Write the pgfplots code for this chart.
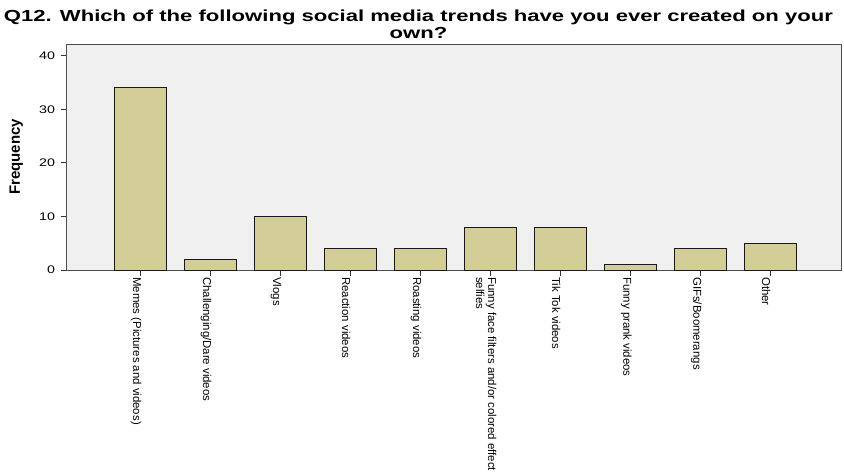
\documentclass[border=0pt]{standalone}
\usepackage{pgfplots}
\pgfplotsset{compat=1.18}
\usepackage{fontspec}
\setmainfont{Liberation Sans}
\newfontfamily\titlefont[FakeStretch=1.38]{Liberation Sans}
\newfontfamily\tickfont[FakeStretch=1.3]{Liberation Sans}
\definecolor{barfill}{RGB}{211,206,151}
\definecolor{plotbg}{RGB}{240,240,240}
\begin{document}
\begin{tikzpicture}
\useasboundingbox (0,-473pt) rectangle (844pt,0);
\clip (0,-473pt) rectangle (844pt,0);
\begin{axis}[
  at={(66.7pt,-270pt)}, anchor=south west,
  scale only axis, width=774.8pt, height=226pt,
  xmin=-1.054, xmax=10.01, ymin=0, ymax=42.2,
  axis background/.style={fill=plotbg},
  axis line style={draw=black!70, line width=0.9pt},
  ybar, bar width=0.747,
  xtick={0,1,2,3,4,5,6,7,8,9},
  xticklabels={Memes (Pictures and videos), Challenging/Dare videos, Vlogs, Reaction videos, Roasting videos, {Funny face filters and/or colored effect\\selfies}, Tik Tok videos, Funny prank videos, GIFs/Boomerangs, Other},
  ytick={0,10,20,30,40},
  tick align=outside, tick pos=left,
  major tick length=5.5pt,
  tick style={black!80, line width=0.8pt},
  xticklabel style={xshift=-4.5pt, yshift=-1.5pt, rotate=-90, anchor=west, align=left, font=\fontsize{11.4}{12}\selectfont, inner sep=0pt},
  yticklabel style={font=\tickfont\fontsize{11}{12}\selectfont, inner sep=0pt, anchor=east, xshift=-6pt},
  /pgf/number format/assume math mode=true,
  ylabel={Frequency},
  ylabel style={font=\bfseries\fontsize{15}{16}\selectfont, at={(axis description cs:-0.056,0.5)}, anchor=south, inner sep=0pt},
  title={Q12. Which of the following social media trends have you ever created on your\\own?},
  title style={font=\titlefont\bfseries\fontsize{16}{16.7}\selectfont, align=center, at={(axis description cs:0.454,1)}, anchor=south, inner sep=0pt, yshift=-0.5pt},
]
\addplot[fill=barfill, draw=black!90, line width=1pt] coordinates {(0,34) (1,2) (2,10) (3,4) (4,4) (5,8) (6,8) (7,1) (8,4) (9,5)};
\end{axis}
\end{tikzpicture}
\end{document}
